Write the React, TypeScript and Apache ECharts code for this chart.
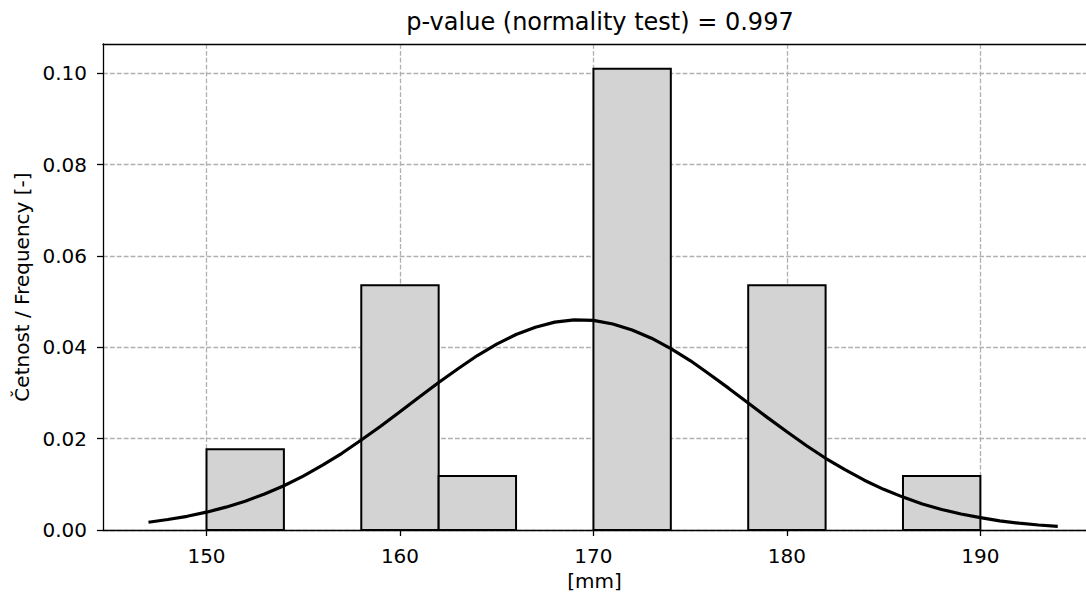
import React, { useEffect, useRef } from "react";
import * as echarts from "echarts";

const TITLE = "p-value (normality test) = 0.997";
const X_LABEL = "[mm]";
const Y_LABEL = "Četnost / Frequency [-]";

const xTicks = [150, 160, 170, 180, 190];
const yTicks = [0, 0.02, 0.04, 0.06, 0.08, 0.1];

const binLeft = [150, 158, 162, 170, 178, 186];
const binRight = [154, 162, 166, 174, 182, 190];
const binHeight = [0.0177, 0.0536, 0.0118, 0.101, 0.0536, 0.0118];

const curveX = [
  147, 148, 149, 150, 151, 152, 153, 154, 155, 156, 157, 158, 159, 160, 161, 162,
  163, 164, 165, 166, 167, 168, 169, 170, 171, 172, 173, 174, 175, 176, 177, 178,
  179, 180, 181, 182, 183, 184, 185, 186, 187, 188, 189, 190, 191, 192, 193, 194,
];
const curveY = [
  0.0017, 0.0023, 0.003, 0.0039, 0.005, 0.0063, 0.0079, 0.0097, 0.0118, 0.0142,
  0.0168, 0.0197, 0.0227, 0.0259, 0.0291, 0.0323, 0.0353, 0.0382, 0.0407, 0.0428,
  0.0444, 0.0455, 0.046, 0.0459, 0.0451, 0.0438, 0.042, 0.0397, 0.0371, 0.0341,
  0.031, 0.0278, 0.0246, 0.0215, 0.0185, 0.0157, 0.0132, 0.0109, 0.0089, 0.0072,
  0.0057, 0.0045, 0.0035, 0.0027, 0.002, 0.0015, 0.0011, 0.0008,
];

const FONT = "'DejaVu Sans', sans-serif";
const X_MIN = 144.65;
const X_MAX = 195.46;

export default function App() {
  const ref = useRef<HTMLDivElement>(null);
  useEffect(() => {
    if (!ref.current) return;
    const chart = echarts.init(ref.current, undefined, { renderer: "svg" });
    const bars = binLeft.map((l, i) => [l, binRight[i], binHeight[i]]);
    const curve = curveX.map((x, i) => [x, curveY[i]]);
    const gridLine = {
      show: true,
      lineStyle: { color: "#b0b0b0", width: 1.3, type: [4.8, 2.1] as any },
    };
    const spine = { show: true, onZero: false, lineStyle: { color: "#000", width: 1.3 } };
    chart.setOption({
      animation: false,
      backgroundColor: "#ffffff",
      textStyle: { fontFamily: FONT },
      graphic: [
        {
          type: "text",
          x: 600,
          y: 22,
          style: {
            text: TITLE,
            fill: "#000",
            font: `24px ${FONT}`,
            textAlign: "center",
            textVerticalAlign: "middle",
          },
        },
      ],
      grid: {
        left: 103,
        top: 44,
        right: 0,
        bottom: 63,
        show: false,
        containLabel: false,
        outerBoundsMode: "none",
      },
      xAxis: [
        {
          type: "value",
          min: X_MIN,
          max: X_MAX,
          name: X_LABEL,
          nameLocation: "middle",
          nameGap: 40,
          nameTextStyle: { fontSize: 20, color: "#000", fontFamily: FONT },
          axisLine: spine,
          axisTick: {
            show: true,
            length: 6,
            customValues: xTicks,
            lineStyle: { color: "#000", width: 1.3 },
          },
          axisLabel: {
            customValues: xTicks,
            fontSize: 20,
            color: "#000",
            margin: 16,
            fontFamily: FONT,
          },
          splitLine: gridLine,
        },
        {
          type: "value",
          position: "top",
          min: X_MIN,
          max: X_MAX,
          axisLine: spine,
          axisTick: { show: false },
          axisLabel: { show: false },
          splitLine: { show: false },
        },
      ],
      yAxis: {
        type: "value",
        min: 0,
        max: 0.1064,
        name: Y_LABEL,
        nameLocation: "middle",
        nameGap: 70,
        nameTextStyle: { fontSize: 20, color: "#000", fontFamily: FONT },
        axisLine: spine,
        axisTick: {
          show: true,
          length: 6,
          customValues: yTicks,
          lineStyle: { color: "#000", width: 1.3 },
        },
        axisLabel: {
          customValues: yTicks,
          fontSize: 20,
          color: "#000",
          margin: 16,
          fontFamily: FONT,
          formatter: (v: number) => v.toFixed(2),
        },
        splitLine: gridLine,
      },
      series: [
        {
          type: "custom",
          z: 2,
          data: bars,
          encode: { x: [0, 1], y: 2 },
          renderItem: (params: any, api: any) => {
            const p0 = api.coord([api.value(0), api.value(2)]);
            const p1 = api.coord([api.value(1), 0]);
            return {
              type: "rect",
              shape: { x: p0[0], y: p0[1], width: p1[0] - p0[0], height: p1[1] - p0[1] },
              style: { fill: "#d3d3d3", stroke: "#000", lineWidth: 2 },
            };
          },
        },
        {
          type: "line",
          z: 3,
          data: curve,
          showSymbol: false,
          symbol: "none",
          smooth: false,
          lineStyle: { color: "#000", width: 3.2 },
        },
      ],
    });
    return () => chart.dispose();
  }, []);
  return (
    <div
      ref={ref}
      style={{ position: "absolute", left: 0, top: 0, width: 1086, height: 593 }}
    />
  );
}
